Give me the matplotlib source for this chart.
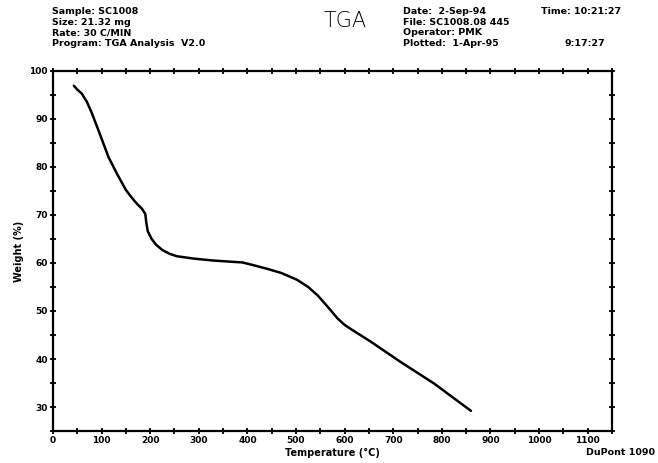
import matplotlib
matplotlib.use("Agg")
import matplotlib.pyplot as plt
from matplotlib.ticker import MultipleLocator

# TGA trace
temp_c = [43, 50, 59, 70, 80, 97, 114, 131, 150, 162, 172, 183, 190, 192, 195,
          203, 212, 225, 240, 255, 290, 330, 390, 410, 440, 470, 502, 525, 545,
          565, 585, 600, 615, 654, 715, 784, 860]
weight_pct = [96.9, 96.1, 95.3, 93.5, 91.2, 86.7, 82.1, 78.7, 75.2, 73.6, 72.4,
              71.3, 70.2, 68.4, 66.6, 65.0, 63.8, 62.7, 61.9, 61.4, 60.9, 60.5,
              60.1, 59.6, 58.8, 57.9, 56.5, 55.0, 53.2, 50.9, 48.5, 47.1, 46.1,
              43.6, 39.4, 34.9, 29.2]

header_left = ["Sample: SC1008", "Size: 21.32 mg", "Rate: 30 C/MIN",
               "Program: TGA Analysis  V2.0"]
header_right = ["Date:  2-Sep-94", "File: SC1008.08 445", "Operator: PMK",
                "Plotted:  1-Apr-95"]
header_times = ["Time: 10:21:27", "", "", "9:17:27"]

fig = plt.figure(figsize=(6.58, 4.63), dpi=100)
ax = fig.add_axes([0.0805, 0.069, 0.8495, 0.778])

ax.plot(temp_c, weight_pct, color="black", lw=1.8, solid_capstyle="round",
        solid_joinstyle="round")

ax.set_xlim(0, 1150)
ax.set_ylim(25, 100)
ax.xaxis.set_minor_locator(MultipleLocator(50))
ax.yaxis.set_minor_locator(MultipleLocator(5))
ax.set_xticks(range(0, 1101, 100))
ax.set_yticks(range(30, 101, 10))

for s in ax.spines.values():
    s.set_linewidth(1.6)
ax.tick_params(which="both", direction="inout", length=4.5, width=1.3,
               top=True, right=True, labelsize=6.5, pad=1.5)
for lab in ax.get_xticklabels() + ax.get_yticklabels():
    lab.set_fontweight("bold")

ax.set_xlabel("Temperature (°C)", fontsize=7, fontweight="bold", labelpad=2)
ax.set_ylabel("Weight (%)", fontsize=7, fontweight="bold", labelpad=4)

fig.text(0.525, 0.955, "TGA", fontsize=15, ha="center", va="center",
         fontweight="light")

ys = [0.975, 0.952, 0.929, 0.906]
for y, t in zip(ys, header_left):
    fig.text(0.079, y, t, fontsize=6.8, fontweight="bold", va="center")
for y, t in zip(ys, header_right):
    fig.text(0.612, y, t, fontsize=6.8, fontweight="bold", va="center")
fig.text(0.822, ys[0], header_times[0], fontsize=6.8, fontweight="bold", va="center")
fig.text(0.858, ys[3], header_times[3], fontsize=6.8, fontweight="bold", va="center")

fig.text(0.995, 0.012, "DuPont 1090", fontsize=6.8, fontweight="bold",
         ha="right", va="bottom")

fig.savefig("out.png", dpi=100)
